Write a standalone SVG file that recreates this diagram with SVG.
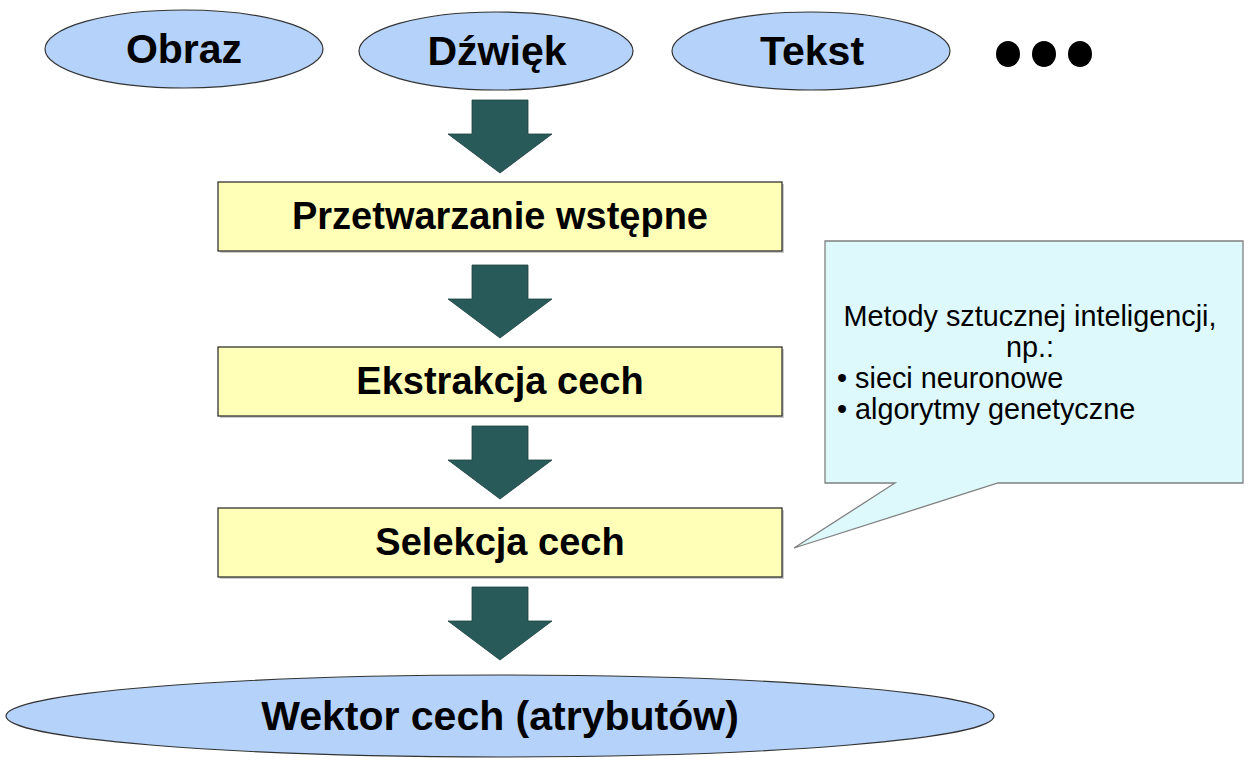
<svg xmlns="http://www.w3.org/2000/svg" width="1253" height="765" viewBox="0 0 1253 765">
<style>
.ell{fill:#B4D2FA;stroke:#333333;stroke-width:1.2}
.box{fill:#FFFFB8;stroke:#222222;stroke-width:1.2}
.shadow{fill:#9a9a9a;opacity:0.5}
.arrow{fill:#285A5A;stroke:#1c3f3f;stroke-width:0.8}
.big{font-family:"Liberation Sans",Arial,sans-serif;font-weight:bold;font-size:41px;fill:#000;text-anchor:middle}
.mid{font-family:"Liberation Sans",Arial,sans-serif;font-weight:bold;font-size:38px;fill:#000;text-anchor:middle}
.note{font-family:"Liberation Sans",Arial,sans-serif;font-size:28.8px;fill:#000}
</style>
<rect width="1253" height="765" fill="#ffffff"/>
<g id="obraz">
<ellipse class="ell" cx="184" cy="49" rx="139" ry="39"/>
<text class="big" x="184" y="63">Obraz</text>
</g>
<g id="dzwiek">
<ellipse class="ell" cx="496" cy="51" rx="137" ry="39"/>
<text class="big" x="497" y="65">Dźwięk</text>
</g>
<g id="tekst">
<ellipse class="ell" cx="811" cy="51" rx="139" ry="39"/>
<text class="big" x="812" y="65">Tekst</text>
</g>
<g id="dots">
<ellipse cx="1008" cy="54" rx="12" ry="13" fill="#000"/>
<ellipse cx="1044" cy="54" rx="12" ry="13" fill="#000"/>
<ellipse cx="1080" cy="54" rx="12" ry="13" fill="#000"/>
</g>
<g id="connectors">
<polygon class="arrow" points="472,100 528,100 528,134 552,134 500,173 448,134 472,134"/>
<polygon class="arrow" points="472,265 528,265 528,299 552,299 500,338 448,299 472,299"/>
<polygon class="arrow" points="472,426 528,426 528,460 552,460 500,499 448,460 472,460"/>
<polygon class="arrow" points="472,587 528,587 528,621 552,621 500,660 448,621 472,621"/>
</g>
<g id="przetwarzanie">
<rect class="shadow" x="220" y="184" width="564" height="69"/>
<rect class="box" x="218" y="182" width="564" height="69"/>
<text class="mid" x="500" y="229">Przetwarzanie wstępne</text>
</g>
<g id="ekstrakcja">
<rect class="shadow" x="220" y="349" width="564" height="69"/>
<rect class="box" x="218" y="347" width="564" height="69"/>
<text class="mid" x="500" y="394">Ekstrakcja cech</text>
</g>
<g id="selekcja">
<rect class="shadow" x="220" y="510" width="564" height="69"/>
<rect class="box" x="218" y="508" width="564" height="69"/>
<text class="mid" x="500" y="555">Selekcja cech</text>
</g>
<g id="wektor">
<ellipse class="ell" cx="500" cy="716" rx="494" ry="41"/>
<text class="big" x="500" y="730">Wektor cech (atrybutów)</text>
</g>
<g id="callout">
<path d="M825,241 L1243,241 L1243,483 L998,483 L794,548 L895,483 L825,483 Z" fill="#DDF9FB" stroke="#808080" stroke-width="1.3"/>
<text class="note" x="1030" y="326" text-anchor="middle">Metody sztucznej inteligencji,</text>
<text class="note" x="1030" y="357" text-anchor="middle">np.:</text>
<text class="note" x="837" y="388">• sieci neuronowe</text>
<text class="note" x="837" y="419">• algorytmy genetyczne</text>
</g>
</svg>
